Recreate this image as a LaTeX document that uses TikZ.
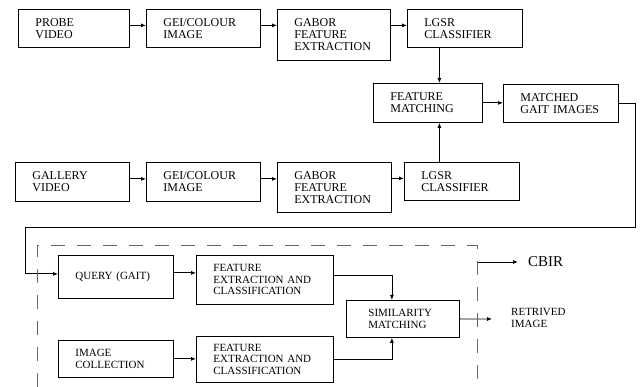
\documentclass[tikz,border=0pt]{standalone}
\usepackage{fontspec}
\setmainfont{Liberation Serif}
\usetikzlibrary{arrows.meta}

\begin{document}
\begin{tikzpicture}[x=1pt,y=-1pt,
    blk/.style={draw, line width=.8pt, anchor=north west, align=left,
      inner xsep=17pt, inner ysep=0pt, font=\fontsize{12}{12}\selectfont},
    smallblk/.style={blk, font=\fontsize{11}{11.5}\selectfont},
    arr/.style={-{Latex[length=5pt,width=4pt]}, line width=.8pt},
    frame/.style={line width=.8pt, black!60, dash pattern=on 14pt off 12pt}]
  \useasboundingbox (0,0) rectangle (641,387);
  % probe row
  \node[blk, text width=77pt, minimum height=38pt] (probe) at (18,9) {PROBE\\VIDEO};
  \node[blk, text width=80pt, minimum height=38pt] (gei1) at (146,9) {GEI/COLOUR\\IMAGE};
  \node[blk, text width=79pt, minimum height=51pt] (gabor1) at (277,9) {GABOR\\FEATURE\\EXTRACTION};
  \node[blk, text width=81pt, minimum height=38pt] (lgsr1) at (407,9) {LGSR\\CLASSIFIER};
  % matching
  \node[blk, text width=75pt, minimum height=39pt] (fm) at (373,83) {FEATURE\\MATCHING};
  \node[blk, text width=81pt, minimum height=38pt] (mgi) at (503,84) {MATCHED\\GAIT IMAGES};
  % gallery row
  \node[blk, text width=80pt, minimum height=39pt] (gallery) at (15,162) {GALLERY\\VIDEO};
  \node[blk, text width=80pt, minimum height=39pt] (gei2) at (146,162) {GEI/COLOUR\\IMAGE};
  \node[blk, text width=80pt, minimum height=50pt] (gabor2) at (277,162) {GABOR\\FEATURE\\EXTRACTION};
  \node[blk, text width=81pt, minimum height=38pt] (lgsr2) at (404,162) {LGSR\\CLASSIFIER};
  % cbir part
  \node[smallblk, text width=81pt, minimum height=43pt] (query) at (58,255) {QUERY (GAIT)};
  \node[smallblk, text width=103pt, minimum height=49pt] (fe1) at (196,255) {FEATURE\\EXTRACTION AND\\CLASSIFICATION};
  \node[smallblk, text width=81pt, minimum height=37pt] (ic) at (58,340) {IMAGE\\COLLECTION};
  \node[smallblk, text width=103pt, minimum height=46pt] (fe2) at (196,336) {FEATURE\\EXTRACTION AND\\CLASSIFICATION};
  \node[smallblk, inner xsep=22pt, text width=69pt, minimum height=37pt] (sm) at (346,300) {SIMILARITY\\MATCHING};
  \node[anchor=west, align=left, inner sep=0pt, font=\fontsize{11}{11.5}\selectfont] (ret) at (511,318) {RETRIVED\\IMAGE};
  \node[anchor=west, inner sep=0pt, font=\fontsize{15}{15}\selectfont] (cbir) at (528,262) {CBIR};

  \coordinate (turnR) at (635,227);
  \coordinate (turnL) at (25,227);
  \coordinate (retArr) at (492,319);
  \coordinate (cbirTail) at (477,262);

  % arrows
  \draw[arr] ([yshift=3pt]probe.east) -- ([yshift=3pt]gei1.west);
  \draw[arr] ([yshift=3pt]gei1.east) -- ([yshift=3pt]gei1.east -| gabor1.west);
  \draw[arr] ([yshift=3pt]lgsr1.west -| gabor1.east) -- ([yshift=3pt]lgsr1.west);
  \draw[arr] ([xshift=11.5pt]fm.north |- lgsr1.south) -- ([xshift=11.5pt]fm.north);
  \draw[arr] ([xshift=11.5pt]fm.south |- lgsr2.north) -- ([xshift=11.5pt]fm.south);
  \draw[arr] (fm.east) -- (fm.east -| mgi.west);
  \draw[arr] ([yshift=3pt]gallery.east) -- ([yshift=3pt]gei2.west);
  \draw[arr] ([yshift=3pt]gei2.east) -- ([yshift=3pt]gei2.east -| gabor2.west);
  \draw[arr] ([yshift=3pt]lgsr2.west -| gabor2.east) -- ([yshift=3pt]lgsr2.west);
  \draw[arr] (mgi.east) -| (turnR) -- (turnL) |- ([yshift=3pt]query.west);
  \draw[arr] ([yshift=4pt]query.east) -- ([yshift=4pt]query.east -| fe1.west);
  \draw[arr] (ic.east) -- (ic.east -| fe2.west);
  \draw[arr] ([yshift=4pt]fe1.east) -| ([xshift=-11pt]sm.north);
  \draw[arr] (fe2.east) -| ([xshift=-11pt]sm.south);
  \draw[arr] (sm.east) -- (retArr);
  \draw[arr] (cbirTail) -- ([xshift=-10pt]cbir.west);

  % dashed frame
  \draw[frame] (37,387) -- (37,245) -- (477,245) -- (477,387);
\end{tikzpicture}
\end{document}
